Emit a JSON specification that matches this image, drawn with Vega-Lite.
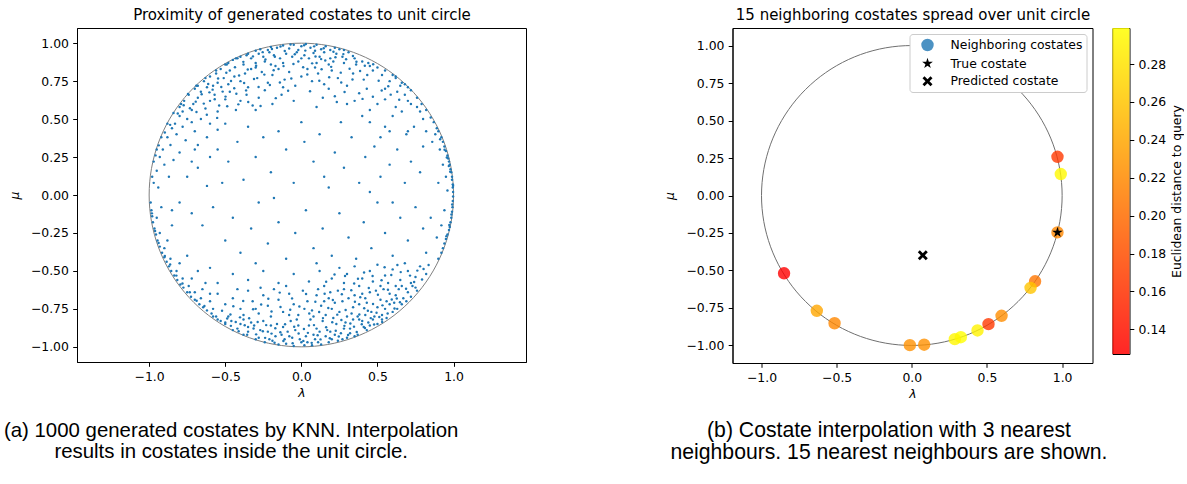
{
"$schema": "https://vega.github.io/schema/vega-lite/v6.json",
"padding": {"left": 3, "top": 6, "right": 0, "bottom": 0},
"background": "white",
"config": {
"font": "DejaVu Sans",
"view": {"stroke": "black", "strokeWidth": 1},
"axis": {"grid": false, "domainColor": "black", "domainWidth": 1, "tickColor": "black", "tickWidth": 1, "tickSize": 4.3, "labelPadding": 4.3, "labelFont": "DejaVu Sans", "labelFontSize": 12.4, "labelColor": "black", "labelFlush": false, "labelOverlap": false, "titleFont": "DejaVu Sans", "titleFontSize": 12.4, "titleFontWeight": "normal", "titleColor": "black"}
},
"datasets": {
"circle": [{"a":0,"x":1,"y":0},{"a":10,"x":0.9848,"y":0.1736},{"a":20,"x":0.9397,"y":0.342},{"a":30,"x":0.866,"y":0.5},{"a":40,"x":0.766,"y":0.6428},{"a":50,"x":0.6428,"y":0.766},{"a":60,"x":0.5,"y":0.866},{"a":70,"x":0.342,"y":0.9397},{"a":80,"x":0.1736,"y":0.9848},{"a":90,"x":0,"y":1},{"a":100,"x":-0.1736,"y":0.9848},{"a":110,"x":-0.342,"y":0.9397},{"a":120,"x":-0.5,"y":0.866},{"a":130,"x":-0.6428,"y":0.766},{"a":140,"x":-0.766,"y":0.6428},{"a":150,"x":-0.866,"y":0.5},{"a":160,"x":-0.9397,"y":0.342},{"a":170,"x":-0.9848,"y":0.1736},{"a":180,"x":-1,"y":0},{"a":190,"x":-0.9848,"y":-0.1736},{"a":200,"x":-0.9397,"y":-0.342},{"a":210,"x":-0.866,"y":-0.5},{"a":220,"x":-0.766,"y":-0.6428},{"a":230,"x":-0.6428,"y":-0.766},{"a":240,"x":-0.5,"y":-0.866},{"a":250,"x":-0.342,"y":-0.9397},{"a":260,"x":-0.1736,"y":-0.9848},{"a":270,"x":0,"y":-1},{"a":280,"x":0.1736,"y":-0.9848},{"a":290,"x":0.342,"y":-0.9397},{"a":300,"x":0.5,"y":-0.866},{"a":310,"x":0.6428,"y":-0.766},{"a":320,"x":0.766,"y":-0.6428},{"a":330,"x":0.866,"y":-0.5},{"a":340,"x":0.9397,"y":-0.342},{"a":350,"x":0.9848,"y":-0.1736}],
"neighbors": [{"x":0.969,"y":0.258,"dist":0.165},{"x":0.991,"y":0.143,"dist":0.295},{"x":0.969,"y":-0.246,"dist":0.218},{"x":-0.85,"y":-0.519,"dist":0.127},{"x":0.82,"y":-0.572,"dist":0.206},{"x":0.79,"y":-0.616,"dist":0.259},{"x":-0.632,"y":-0.769,"dist":0.239},{"x":-0.514,"y":-0.852,"dist":0.218},{"x":0.597,"y":-0.802,"dist":0.222},{"x":0.51,"y":-0.858,"dist":0.165},{"x":0.437,"y":-0.9,"dist":0.29},{"x":0.326,"y":-0.945,"dist":0.299},{"x":0.286,"y":-0.958,"dist":0.293},{"x":0.082,"y":-0.995,"dist":0.225},{"x":-0.013,"y":-0.998,"dist":0.225}],
"markers": [{"x":0.969,"y":-0.246,"kind":"True costate"},{"x":0.073,"y":-0.399,"kind":"Predicted costate"}],
"costates": [
{"x":-0.05,"y":0.99},{"x":0.03,"y":0.995},{"x":0.1,"y":0.99},{"x":-0.12,"y":0.985},{"x":0.16,"y":0.98},{"x":-0.2,"y":0.975},{"x":0.22,"y":0.97},{"x":-0.27,"y":0.96},{"x":0.06,"y":0.97},{"x":-0.08,"y":0.965},{"x":0.13,"y":0.96},{"x":0.28,"y":0.955},{"x":-0.3,"y":0.95},{"x":0,"y":0.98},{"x":-0.16,"y":0.97},{"x":0.19,"y":0.955},{"x":0.09,"y":0.95},{"x":-0.02,"y":0.955},{"x":-0.22,"y":0.955},{"x":0.25,"y":0.96},
{"x":-0.45,"y":0.89},{"x":-0.4,"y":0.91},{"x":-0.36,"y":0.92},{"x":-0.33,"y":0.9},{"x":-0.28,"y":0.93},{"x":-0.25,"y":0.91},{"x":-0.21,"y":0.94},{"x":-0.18,"y":0.92},{"x":-0.14,"y":0.9},{"x":-0.1,"y":0.93},{"x":-0.06,"y":0.91},{"x":-0.03,"y":0.94},{"x":0.02,"y":0.92},{"x":0.05,"y":0.9},{"x":0.08,"y":0.935},{"x":0.12,"y":0.91},{"x":0.15,"y":0.94},{"x":0.19,"y":0.9},{"x":0.23,"y":0.93},{"x":0.27,"y":0.91},{"x":0.31,"y":0.94},{"x":0.35,"y":0.9},{"x":0.4,"y":0.88},{"x":0.44,"y":0.87},{"x":-0.48,"y":0.87},{"x":-0.5,"y":0.86},{"x":-0.38,"y":0.86},{"x":-0.3,"y":0.87},{"x":-0.2,"y":0.86},{"x":-0.12,"y":0.87},{"x":-0.02,"y":0.88},{"x":0.1,"y":0.87},{"x":0.18,"y":0.86},{"x":0.28,"y":0.87},{"x":0.36,"y":0.86},{"x":-0.42,"y":0.9},{"x":-0.24,"y":0.88},{"x":0,"y":0.9},{"x":0.21,"y":0.88},{"x":0.13,"y":0.895},
{"x":-0.68,"y":0.72},{"x":-0.64,"y":0.75},{"x":-0.6,"y":0.78},{"x":-0.56,"y":0.8},{"x":-0.62,"y":0.71},{"x":-0.55,"y":0.74},{"x":-0.51,"y":0.77},{"x":-0.47,"y":0.82},{"x":-0.44,"y":0.78},{"x":-0.4,"y":0.75},{"x":-0.37,"y":0.8},{"x":-0.33,"y":0.83},{"x":-0.29,"y":0.77},{"x":-0.26,"y":0.81},{"x":-0.22,"y":0.74},{"x":-0.19,"y":0.79},{"x":-0.15,"y":0.83},{"x":-0.11,"y":0.76},{"x":-0.08,"y":0.81},{"x":-0.04,"y":0.72},{"x":0,"y":0.78},{"x":0.04,"y":0.83},{"x":0.07,"y":0.75},{"x":0.11,"y":0.8},{"x":0.15,"y":0.73},{"x":0.2,"y":0.82},{"x":0.24,"y":0.77},{"x":0.3,"y":0.72},{"x":0.34,"y":0.8},{"x":0.41,"y":0.76},{"x":0.47,"y":0.82},{"x":0.53,"y":0.79},{"x":0.58,"y":0.75},{"x":0.62,"y":0.77},{"x":0.5,"y":0.84},{"x":0.55,"y":0.82},{"x":0.45,"y":0.85},{"x":0.65,"y":0.72},{"x":-0.7,"y":0.7},{"x":-0.58,"y":0.72},{"x":-0.48,"y":0.73},{"x":-0.35,"y":0.71},{"x":-0.12,"y":0.71},{"x":0.18,"y":0.7},{"x":-0.53,"y":0.83},{"x":-0.3,"y":0.84},{"x":-0.17,"y":0.85},{"x":0.09,"y":0.84},
{"x":-0.8,"y":0.58},{"x":-0.77,"y":0.62},{"x":-0.74,"y":0.66},{"x":-0.71,"y":0.6},{"x":-0.68,"y":0.64},{"x":-0.66,"y":0.68},{"x":-0.63,"y":0.57},{"x":-0.6,"y":0.62},{"x":-0.57,"y":0.66},{"x":-0.54,"y":0.59},{"x":-0.5,"y":0.63},{"x":-0.47,"y":0.68},{"x":-0.43,"y":0.56},{"x":-0.4,"y":0.62},{"x":-0.36,"y":0.66},{"x":-0.32,"y":0.59},{"x":-0.28,"y":0.64},{"x":-0.24,"y":0.69},{"x":-0.19,"y":0.6},{"x":-0.13,"y":0.66},{"x":-0.05,"y":0.62},{"x":0.1,"y":0.58},{"x":0.22,"y":0.65},{"x":0.3,"y":0.6},{"x":0.45,"y":0.56},{"x":0.55,"y":0.63},{"x":0.62,"y":0.58},{"x":0.68,"y":0.66},{"x":0.72,"y":0.6},{"x":0.78,"y":0.55},{"x":-0.78,"y":0.55},{"x":-0.72,"y":0.56},{"x":-0.55,"y":0.55},{"x":-0.3,"y":0.56},{"x":0.38,"y":0.67},
{"x":-0.8,"y":0.52},{"x":-0.83,"y":0.47},{"x":-0.85,"y":0.44},{"x":-0.82,"y":0.4},{"x":-0.88,"y":0.38},{"x":-0.86,"y":0.33},{"x":-0.91,"y":0.3},{"x":-0.78,"y":0.45},{"x":-0.75,"y":0.5},{"x":-0.72,"y":0.48},{"x":-0.93,"y":0.25},{"x":-0.9,"y":0.2},{"x":-0.95,"y":0.16},{"x":-0.97,"y":0.08},{"x":-0.98,"y":0.12},{"x":-0.94,"y":0.05},{"x":-0.7,"y":0.42},{"x":-0.76,"y":0.36},{"x":-0.66,"y":0.5},{"x":-0.6,"y":0.47},{"x":-0.68,"y":0.33},{"x":-0.62,"y":0.38},{"x":-0.84,"y":0.23},{"x":-0.8,"y":0.28},{"x":-0.55,"y":0.43},{"x":-0.5,"y":0.47},{"x":-0.72,"y":0.22},{"x":-0.87,"y":0.12},
{"x":-0.35,"y":0.93},{"x":-0.43,"y":0.9},{"x":-0.49,"y":0.86},{"x":-0.56,"y":0.82},{"x":-0.63,"y":0.77},{"x":-0.69,"y":0.72},{"x":-0.745,"y":0.665},{"x":-0.79,"y":0.6},{"x":-0.84,"y":0.54},{"x":-0.88,"y":0.47},{"x":-0.92,"y":0.38},{"x":-0.95,"y":0.3},{"x":-0.97,"y":0.22},
{"x":0.55,"y":0.7},{"x":0.63,"y":0.68},{"x":0.7,"y":0.62},{"x":0.76,"y":0.58},{"x":0.6,"y":0.52},{"x":0.5,"y":0.6},{"x":0.43,"y":0.7},{"x":0.66,"y":0.55},{"x":0.35,"y":0.62},{"x":0.8,"y":0.5},{"x":0.74,"y":0.45},{"x":0.58,"y":0.42},{"x":0.69,"y":0.4},{"x":0.45,"y":0.48},{"x":0.4,"y":0.52},{"x":0.82,"y":0.42},{"x":0.52,"y":0.38},
{"x":0.82,"y":0.56},{"x":0.85,"y":0.51},{"x":0.87,"y":0.48},{"x":0.89,"y":0.44},{"x":0.9,"y":0.42},{"x":0.92,"y":0.38},{"x":0.93,"y":0.35},{"x":0.94,"y":0.32},{"x":0.95,"y":0.29},{"x":0.96,"y":0.26},{"x":0.965,"y":0.24},{"x":0.97,"y":0.22},{"x":0.975,"y":0.2},{"x":0.98,"y":0.17},{"x":0.985,"y":0.15},{"x":0.99,"y":0.12},{"x":0.99,"y":0.1},{"x":0.995,"y":0.07},{"x":0.995,"y":0.05},{"x":0.997,"y":0.02},{"x":0.997,"y":-0.01},{"x":0.995,"y":-0.04},{"x":0.993,"y":-0.08},{"x":0.99,"y":-0.11},{"x":0.985,"y":-0.15},{"x":0.98,"y":-0.18},{"x":0.975,"y":-0.21},{"x":0.97,"y":-0.23},{"x":0.96,"y":-0.26},{"x":0.95,"y":-0.29},{"x":0.94,"y":-0.32},{"x":0.93,"y":-0.35},{"x":0.92,"y":-0.38},{"x":0.9,"y":-0.42},
{"x":0.88,"y":0.4},{"x":0.91,"y":0.3},{"x":0.93,"y":0.2},{"x":0.95,"y":0.12},{"x":0.96,"y":0.03},{"x":0.94,"y":-0.1},{"x":0.92,"y":-0.2},{"x":0.89,"y":-0.28},{"x":0.86,"y":0.35},{"x":0.9,"y":0.08},{"x":0.85,"y":-0.15},
{"x":0.62,"y":0.78},{"x":0.68,"y":0.73},{"x":0.72,"y":0.69},{"x":0.76,"y":0.64},{"x":0.79,"y":0.6},{"x":0.6,"y":0.79},{"x":0.66,"y":0.74},{"x":0.7,"y":0.71},
{"x":-0.75,"y":0.12},{"x":-0.68,"y":0.18},{"x":-0.62,"y":0.06},{"x":-0.55,"y":0.3},{"x":-0.48,"y":0.22},{"x":-0.42,"y":0.35},{"x":-0.38,"y":0.1},{"x":-0.3,"y":0.25},{"x":-0.25,"y":0.38},{"x":-0.2,"y":0.15},{"x":-0.15,"y":0.42},{"x":-0.1,"y":0.3},{"x":-0.05,"y":0.08},{"x":0.02,"y":0.35},{"x":0.08,"y":0.22},{"x":0.12,"y":0.4},{"x":0.18,"y":0.05},{"x":0.22,"y":0.28},{"x":0.28,"y":0.18},{"x":0.33,"y":0.38},{"x":0.38,"y":0.08},{"x":0.42,"y":0.25},{"x":0.48,"y":0.32},{"x":0.52,"y":0.12},{"x":0.58,"y":0.2},{"x":0.63,"y":0.3},{"x":0.68,"y":0.08},{"x":0.72,"y":0.22},{"x":0.78,"y":0.15},{"x":0.8,"y":0.32},
{"x":-0.8,"y":-0.05},{"x":-0.72,"y":-0.12},{"x":-0.65,"y":-0.2},{"x":-0.58,"y":-0.08},{"x":-0.5,"y":-0.3},{"x":-0.45,"y":-0.15},{"x":-0.4,"y":-0.38},{"x":-0.33,"y":-0.22},{"x":-0.28,"y":-0.05},{"x":-0.22,"y":-0.32},{"x":-0.15,"y":-0.18},{"x":-0.1,"y":-0.42},{"x":-0.04,"y":-0.25},{"x":0.03,"y":-0.1},{"x":0.08,"y":-0.35},{"x":0.14,"y":-0.22},{"x":0.2,"y":-0.4},{"x":0.25,"y":-0.12},{"x":0.31,"y":-0.28},{"x":0.36,"y":-0.42},{"x":0.41,"y":-0.18},{"x":0.46,"y":-0.35},{"x":0.5,"y":-0.05},{"x":0.55,"y":-0.25},{"x":0.6,"y":-0.4},{"x":0.65,"y":-0.15},{"x":0.7,"y":-0.3},{"x":0.75,"y":-0.08},{"x":0.8,"y":-0.22},{"x":0.82,"y":-0.38},
{"x":-0.6,"y":0.25},{"x":-0.35,"y":0.45},{"x":0,"y":0.48},{"x":0.26,"y":0.48},{"x":0.55,"y":0.45},{"x":-0.7,"y":0.3},{"x":0.15,"y":0.12},{"x":-0.18,"y":-0.02},{"x":0.45,"y":0.02},{"x":-0.52,"y":0.08},{"x":0.6,"y":-0.05},{"x":-0.85,"y":-0.2},{"x":0.1,"y":-0.45},{"x":-0.3,"y":-0.45},{"x":0.7,"y":0.42},
{"x":0.25,"y":-0.48},{"x":0.3,"y":-0.52},{"x":0.35,"y":-0.47},{"x":0.4,"y":-0.55},{"x":0.45,"y":-0.5},{"x":0.5,"y":-0.46},{"x":0.55,"y":-0.53},{"x":0.6,"y":-0.49},{"x":0.65,"y":-0.56},{"x":0.7,"y":-0.5},{"x":0.75,"y":-0.54},{"x":0.78,"y":-0.47},{"x":0.82,"y":-0.52},{"x":0.68,"y":-0.45},{"x":0.57,"y":-0.58},{"x":0.47,"y":-0.57},{"x":0.38,"y":-0.6},{"x":0.28,"y":-0.58},{"x":0.2,"y":-0.55},{"x":0.12,"y":-0.5},{"x":0.05,"y":-0.57},{"x":-0.05,"y":-0.52},{"x":-0.15,"y":-0.58},{"x":-0.25,"y":-0.5},{"x":-0.35,"y":-0.56},{"x":-0.45,"y":-0.52},{"x":-0.55,"y":-0.58},{"x":-0.6,"y":-0.48},{"x":0.62,"y":-0.6},{"x":0.72,"y":-0.58},{"x":0.52,"y":-0.6},{"x":0.15,"y":-0.6},
{"x":-0.55,"y":-0.65},{"x":-0.5,"y":-0.72},{"x":-0.45,"y":-0.68},{"x":-0.4,"y":-0.75},{"x":-0.35,"y":-0.63},{"x":-0.32,"y":-0.7},{"x":-0.28,"y":-0.78},{"x":-0.25,"y":-0.66},{"x":-0.22,"y":-0.73},{"x":-0.18,"y":-0.62},{"x":-0.15,"y":-0.69},{"x":-0.12,"y":-0.77},{"x":-0.08,"y":-0.65},{"x":-0.05,"y":-0.72},{"x":-0.02,"y":-0.79},{"x":0.01,"y":-0.63},{"x":0.04,"y":-0.7},{"x":0.07,"y":-0.76},{"x":0.1,"y":-0.66},{"x":0.13,"y":-0.73},{"x":0.16,"y":-0.79},{"x":0.19,"y":-0.64},{"x":0.22,"y":-0.71},{"x":0.25,"y":-0.77},{"x":0.28,"y":-0.62},{"x":0.31,"y":-0.68},{"x":0.34,"y":-0.74},{"x":0.37,"y":-0.8},{"x":0.4,"y":-0.65},{"x":0.43,"y":-0.71},{"x":0.46,"y":-0.77},{"x":0.49,"y":-0.63},{"x":0.52,"y":-0.69},{"x":0.55,"y":-0.75},{"x":0.58,"y":-0.65},{"x":0.61,"y":-0.71},{"x":0.64,"y":-0.62},{"x":0.67,"y":-0.68},{"x":0.7,"y":-0.64},{"x":0.73,"y":-0.6},{"x":0.76,"y":-0.63},{"x":0.6,"y":-0.77},{"x":0.63,"y":-0.75},{"x":0.66,"y":-0.72},{"x":0.69,"y":-0.7},{"x":0.72,"y":-0.67},{"x":0.75,"y":-0.61},{"x":0.48,"y":-0.8},{"x":0.53,"y":-0.79},{"x":0.42,"y":-0.79},{"x":0.3,"y":-0.8},{"x":0.2,"y":-0.75},{"x":0.08,"y":-0.8},{"x":-0.08,"y":-0.79},{"x":-0.2,"y":-0.8},{"x":-0.38,"y":-0.79},{"x":-0.6,"y":-0.7},{"x":-0.65,"y":-0.62},{"x":-0.58,"y":-0.75},{"x":0.35,"y":-0.66},{"x":0.27,"y":-0.7},{"x":0.15,"y":-0.7},{"x":0.45,"y":-0.64},{"x":0.56,"y":-0.7},{"x":0.62,"y":-0.66},{"x":0.38,"y":-0.72},{"x":0.5,"y":-0.74},{"x":0.24,"y":-0.63},{"x":-0.1,"y":-0.6},{"x":-0.3,"y":-0.75},{"x":0.02,"y":-0.75},{"x":0.11,"y":-0.62},{"x":0.66,"y":-0.6},{"x":0.54,"y":-0.62},{"x":0.42,"y":-0.68},{"x":0.33,"y":-0.78},{"x":0.58,"y":-0.72},{"x":0.18,"y":-0.68},{"x":-0.42,"y":-0.62},
{"x":-0.55,"y":-0.82},{"x":-0.5,"y":-0.85},{"x":-0.46,"y":-0.83},{"x":-0.42,"y":-0.88},{"x":-0.38,"y":-0.82},{"x":-0.35,"y":-0.9},{"x":-0.31,"y":-0.86},{"x":-0.28,"y":-0.94},{"x":-0.25,"y":-0.83},{"x":-0.22,"y":-0.9},{"x":-0.19,"y":-0.96},{"x":-0.16,"y":-0.85},{"x":-0.13,"y":-0.92},{"x":-0.1,"y":-0.98},{"x":-0.07,"y":-0.83},{"x":-0.04,"y":-0.89},{"x":-0.01,"y":-0.95},{"x":0.02,"y":-0.99},{"x":0.05,"y":-0.86},{"x":0.08,"y":-0.92},{"x":0.11,"y":-0.97},{"x":0.14,"y":-0.83},{"x":0.17,"y":-0.89},{"x":0.2,"y":-0.95},{"x":0.23,"y":-0.85},{"x":0.26,"y":-0.91},{"x":0.29,"y":-0.84},{"x":0.32,"y":-0.88},{"x":0.35,"y":-0.93},{"x":0.38,"y":-0.82},{"x":0.41,"y":-0.87},{"x":0.44,"y":-0.84},{"x":0.47,"y":-0.82},{"x":0.5,"y":-0.85},{"x":0.53,"y":-0.82},{"x":0.56,"y":-0.81},{"x":-0.58,"y":-0.8},{"x":-0.45,"y":-0.89},{"x":-0.3,"y":-0.95},{"x":-0.15,"y":-0.985},{"x":0,"y":-0.97},{"x":-0.05,"y":-0.995},{"x":0.07,"y":-0.99},{"x":0.13,"y":-0.985},{"x":0.18,"y":-0.97},{"x":0.24,"y":-0.96},{"x":0.3,"y":-0.94},{"x":0.37,"y":-0.92},{"x":0.43,"y":-0.89},{"x":-0.38,"y":-0.92},{"x":-0.24,"y":-0.97},{"x":-0.2,"y":-0.86},{"x":-0.09,"y":-0.9},{"x":0.03,"y":-0.93},{"x":0.1,"y":-0.88},{"x":0.16,"y":-0.93},{"x":0.28,"y":-0.88},{"x":0.4,"y":-0.83},{"x":-0.33,"y":-0.84},{"x":-0.12,"y":-0.87},{"x":-0.03,"y":-0.82},{"x":0.06,"y":-0.82},{"x":0.21,"y":-0.81},{"x":0.34,"y":-0.82},{"x":-0.27,"y":-0.89},{"x":-0.17,"y":-0.93},{"x":-0.06,"y":-0.94},{"x":0.12,"y":-0.9},{"x":0.22,"y":-0.92},{"x":0.45,"y":-0.86},{"x":-0.48,"y":-0.8},{"x":-0.4,"y":-0.85},{"x":0.04,"y":-0.97},{"x":-0.11,"y":-0.95},{"x":0.19,"y":-0.9},{"x":0.27,"y":-0.95},{"x":-0.21,"y":-0.95},{"x":0.09,"y":-0.95},{"x":-0.02,"y":-0.86},{"x":0.32,"y":-0.91},{"x":-0.35,"y":-0.87},
{"x":-0.99,"y":-0.05},{"x":-0.985,"y":-0.1},{"x":-0.98,"y":-0.14},{"x":-0.975,"y":-0.18},{"x":-0.965,"y":-0.22},{"x":-0.955,"y":-0.26},{"x":-0.945,"y":-0.3},{"x":-0.93,"y":-0.34},{"x":-0.915,"y":-0.38},{"x":-0.9,"y":-0.41},{"x":-0.885,"y":-0.44},{"x":-0.87,"y":-0.47},{"x":-0.855,"y":-0.5},{"x":-0.835,"y":-0.53},{"x":-0.815,"y":-0.56},{"x":-0.795,"y":-0.59},{"x":-0.775,"y":-0.61},{"x":-0.75,"y":-0.64},{"x":-0.725,"y":-0.67},{"x":-0.7,"y":-0.69},{"x":-0.67,"y":-0.72},{"x":-0.645,"y":-0.74},{"x":-0.62,"y":-0.76},{"x":-0.59,"y":-0.78},{"x":-0.56,"y":-0.8},{"x":-0.53,"y":-0.83},{"x":-0.5,"y":-0.84},
{"x":-0.95,"y":-0.15},{"x":-0.93,"y":-0.25},{"x":-0.9,"y":-0.35},{"x":-0.86,"y":-0.42},{"x":-0.82,"y":-0.5},{"x":-0.78,"y":-0.55},{"x":-0.74,"y":-0.6},{"x":-0.7,"y":-0.64},{"x":-0.66,"y":-0.68},{"x":-0.88,"y":-0.3},{"x":-0.8,"y":-0.45},{"x":-0.72,"y":-0.55},{"x":-0.63,"y":-0.58},{"x":-0.68,"y":-0.5},{"x":-0.75,"y":-0.4},{"x":-0.85,"y":-0.1},{"x":-0.6,"y":-0.65},{"x":-0.92,"y":-0.08},
{"x":-0.612,"y":0.731},{"x":-0.547,"y":0.768},{"x":-0.493,"y":0.805},{"x":-0.436,"y":0.842},{"x":-0.381,"y":0.877},{"x":-0.318,"y":0.913},{"x":-0.254,"y":0.941},{"x":-0.193,"y":0.962},{"x":-0.137,"y":0.978},{"x":-0.071,"y":0.991},{"x":0.018,"y":0.987},{"x":0.084,"y":0.979},{"x":0.147,"y":0.967},{"x":0.211,"y":0.944},{"x":0.276,"y":0.928},{"x":0.339,"y":0.915},
{"x":-0.583,"y":0.694},{"x":-0.526,"y":0.712},{"x":-0.462,"y":0.751},{"x":-0.409,"y":0.787},{"x":-0.352,"y":0.826},{"x":-0.297,"y":0.852},{"x":-0.236,"y":0.893},{"x":-0.174,"y":0.911},{"x":-0.109,"y":0.948},{"x":-0.043,"y":0.927},{"x":0.026,"y":0.951},{"x":0.093,"y":0.912},{"x":0.157,"y":0.886},{"x":0.224,"y":0.907},{"x":0.294,"y":0.894},{"x":0.362,"y":0.878},{"x":0.417,"y":0.852},{"x":0.472,"y":0.861},
{"x":-0.655,"y":0.663},{"x":-0.604,"y":0.676},{"x":-0.517,"y":0.681},{"x":-0.441,"y":0.703},{"x":-0.376,"y":0.738},{"x":-0.311,"y":0.764},{"x":-0.243,"y":0.793},{"x":-0.182,"y":0.822},{"x":-0.117,"y":0.849},{"x":-0.052,"y":0.863},{"x":0.012,"y":0.842},{"x":0.071,"y":0.867},{"x":0.133,"y":0.828},{"x":0.196,"y":0.844},{"x":0.259,"y":0.806},{"x":0.317,"y":0.832},{"x":0.386,"y":0.817},{"x":0.433,"y":0.791},
{"x":-0.694,"y":0.615},{"x":-0.641,"y":0.602},{"x":-0.569,"y":0.631},{"x":-0.498,"y":0.648},{"x":-0.427,"y":0.667},{"x":-0.363,"y":0.689},{"x":-0.281,"y":0.712},{"x":-0.207,"y":0.724},{"x":-0.141,"y":0.741},{"x":-0.066,"y":0.768},{"x":0.039,"y":0.794},{"x":0.118,"y":0.752},{"x":0.183,"y":0.776},{"x":0.262,"y":0.741},{"x":0.336,"y":0.761},{"x":0.508,"y":0.753},{"x":0.571,"y":0.716},{"x":0.528,"y":0.688},
{"x":-0.732,"y":0.571},{"x":-0.689,"y":0.547},{"x":-0.621,"y":0.529},{"x":-0.553,"y":0.508},{"x":-0.487,"y":0.584},{"x":-0.414,"y":0.597},{"x":-0.349,"y":0.612},{"x":-0.268,"y":0.586},{"x":-0.168,"y":0.638},{"x":-0.087,"y":0.687},{"x":0.057,"y":0.683},{"x":0.141,"y":0.641},{"x":0.233,"y":0.613},{"x":0.284,"y":0.678},{"x":0.402,"y":0.633},{"x":0.47,"y":0.647},{"x":0.587,"y":0.661},{"x":0.643,"y":0.627},
{"x":-0.463,"y":-0.862},{"x":-0.412,"y":-0.897},{"x":-0.356,"y":-0.921},{"x":-0.297,"y":-0.918},{"x":-0.238,"y":-0.941},{"x":-0.176,"y":-0.973},{"x":-0.118,"y":-0.962},{"x":-0.057,"y":-0.977},{"x":0.013,"y":-0.961},{"x":0.068,"y":-0.974},{"x":0.126,"y":-0.951},{"x":0.187,"y":-0.943},{"x":0.246,"y":-0.932},{"x":0.307,"y":-0.922},{"x":0.364,"y":-0.903},{"x":0.418,"y":-0.876},{"x":0.478,"y":-0.853},{"x":0.531,"y":-0.837},
{"x":-0.487,"y":-0.814},{"x":-0.431,"y":-0.837},{"x":-0.372,"y":-0.858},{"x":-0.314,"y":-0.879},{"x":-0.253,"y":-0.897},{"x":-0.196,"y":-0.913},{"x":-0.138,"y":-0.904},{"x":-0.079,"y":-0.931},{"x":-0.018,"y":-0.912},{"x":0.043,"y":-0.908},{"x":0.107,"y":-0.924},{"x":0.163,"y":-0.871},{"x":0.226,"y":-0.894},{"x":0.283,"y":-0.862},{"x":0.346,"y":-0.867},{"x":0.397,"y":-0.851},{"x":0.456,"y":-0.811},{"x":0.512,"y":-0.803},
{"x":-0.521,"y":-0.763},{"x":-0.466,"y":-0.787},{"x":-0.403,"y":-0.806},{"x":-0.343,"y":-0.812},{"x":-0.287,"y":-0.836},{"x":-0.231,"y":-0.857},{"x":-0.171,"y":-0.878},{"x":-0.107,"y":-0.851},{"x":-0.047,"y":-0.868},{"x":0.017,"y":-0.883},{"x":0.083,"y":-0.857},{"x":0.142,"y":-0.811},{"x":0.203,"y":-0.838},{"x":0.263,"y":-0.823},{"x":0.322,"y":-0.846},{"x":0.381,"y":-0.787},{"x":0.437,"y":-0.762},{"x":0.494,"y":-0.776},{"x":0.567,"y":-0.781},{"x":0.612,"y":-0.748},
{"x":-0.447,"y":-0.733},{"x":-0.382,"y":-0.698},{"x":-0.317,"y":-0.752},{"x":-0.264,"y":-0.721},{"x":-0.196,"y":-0.767},{"x":-0.137,"y":-0.738},{"x":-0.073,"y":-0.756},{"x":-0.013,"y":-0.734},{"x":0.052,"y":-0.781},{"x":0.117,"y":-0.771},{"x":0.177,"y":-0.744},{"x":0.236,"y":-0.788},{"x":0.291,"y":-0.757},{"x":0.352,"y":-0.703},{"x":0.413,"y":-0.746},{"x":0.471,"y":-0.718},{"x":0.533,"y":-0.727},{"x":0.594,"y":-0.688},{"x":0.648,"y":-0.706},
{"x":-0.268,"y":-0.611},{"x":-0.217,"y":-0.684},{"x":-0.142,"y":-0.643},{"x":-0.061,"y":-0.681},{"x":0.031,"y":-0.652},{"x":0.092,"y":-0.703},{"x":0.153,"y":-0.651},{"x":0.207,"y":-0.691},{"x":0.266,"y":-0.654},{"x":0.328,"y":-0.627},{"x":0.387,"y":-0.673},{"x":0.443,"y":-0.612},{"x":0.503,"y":-0.657},{"x":0.569,"y":-0.624},{"x":0.627,"y":-0.682},{"x":0.688,"y":-0.618},{"x":0.741,"y":-0.573},{"x":0.793,"y":-0.556},
{"x":0.287,"y":-0.534},{"x":0.347,"y":-0.583},{"x":0.412,"y":-0.511},{"x":0.468,"y":-0.534},{"x":0.527,"y":-0.562},{"x":0.591,"y":-0.527},{"x":0.653,"y":-0.508},{"x":0.714,"y":-0.531},{"x":0.762,"y":-0.498},{"x":0.803,"y":-0.487},{"x":0.836,"y":-0.461},{"x":0.631,"y":-0.461},{"x":0.547,"y":-0.476},{"x":0.372,"y":-0.552},{"x":0.218,"y":-0.523},{"x":0.163,"y":-0.572},
{"x":-0.982,"y":-0.121},{"x":-0.961,"y":-0.237},{"x":-0.938,"y":-0.316},{"x":-0.897,"y":-0.401},{"x":-0.862,"y":-0.458},{"x":-0.821,"y":-0.531},{"x":-0.781,"y":-0.583},{"x":-0.733,"y":-0.641},{"x":-0.688,"y":-0.697},{"x":-0.637,"y":-0.731},
{"x":0.978,"y":0.153},{"x":0.969,"y":0.191},{"x":0.956,"y":0.247},{"x":0.941,"y":0.298},{"x":0.986,"y":-0.128},{"x":0.972,"y":-0.197},{"x":0.953,"y":-0.271},{"x":0.997,"y":0.061},{"x":0.991,"y":-0.063},{"x":0.912,"y":0.367},
{"x":-0.862,"y":0.462},{"x":-0.897,"y":0.412},{"x":-0.937,"y":0.327},{"x":-0.958,"y":0.261},{"x":-0.812,"y":0.537},{"x":-0.773,"y":0.591}
]
},
"spacing": 135.5,
"resolve": {"scale": {"color": "independent", "fill": "independent", "shape": "independent", "size": "independent"}, "legend": {"color": "independent", "fill": "independent", "shape": "independent", "size": "independent"}},
"hconcat": [
{
"width": 449, "height": 334,
"title": {"text": ["(a) 1000 generated costates by KNN. Interpolation", "results in costates inside the unit circle."], "orient": "bottom", "anchor": "middle", "frame": "group", "dx": -70.3, "offset": 23, "font": "Liberation Sans", "fontSize": 20.4, "fontWeight": "normal", "lineHeight": 21, "color": "black"},
"resolve": {"axis": {"x": "independent"}},
"layer": [
{"data": {"name": "circle"}, "mark": {"type": "line", "color": "#808080", "strokeWidth": 1, "interpolate": "cardinal-closed"},
"encoding": {
"x": {"field": "x", "type": "quantitative", "scale": {"domain": [-1.474, 1.476], "nice": false, "zero": false}, "axis": {"orient": "top", "title": "Proximity of generated costates to unit circle", "labels": false, "ticks": false, "domain": false, "titleFontSize": 15, "titlePadding": 6}},
"y": {"field": "y", "type": "quantitative", "scale": {"domain": [-1.1, 1.1], "nice": false, "zero": false}, "axis": {"values": [-1, -0.75, -0.5, -0.25, 0, 0.25, 0.5, 0.75, 1], "format": ".2f", "title": "μ", "titleFontStyle": "italic", "titlePadding": 9}},
"order": {"field": "a", "type": "quantitative"}}},
{"data": {"name": "costates"}, "mark": {"type": "circle", "size": 6, "color": "#1f77b4", "opacity": 1},
"encoding": {
"x": {"field": "x", "type": "quantitative", "scale": {"domain": [-1.474, 1.476], "nice": false, "zero": false}, "axis": {"orient": "bottom", "values": [-1, -0.5, 0, 0.5, 1], "format": ".1f", "title": "λ", "titleFontStyle": "italic", "titlePadding": 3}},
"y": {"field": "y", "type": "quantitative", "scale": {"domain": [-1.1, 1.1], "nice": false, "zero": false}, "axis": {"values": [-1, -0.75, -0.5, -0.25, 0, 0.25, 0.5, 0.75, 1], "format": ".2f", "title": "μ", "titleFontStyle": "italic", "titlePadding": 9}}}}
]
},
{
"title": {"text": ["(b) Costate interpolation with 3 nearest", "neighbours. 15 nearest neighbours are shown."], "orient": "bottom", "anchor": "middle", "dx": -34.5, "offset": 20, "font": "Liberation Sans", "fontSize": 21.2, "fontWeight": "normal", "lineHeight": 22, "color": "black"},
"spacing": 18,
"resolve": {"scale": {"color": "independent", "fill": "independent", "shape": "independent", "size": "independent"}, "legend": {"color": "independent", "fill": "independent", "shape": "independent", "size": "independent"}},
"hconcat": [
{
"width": 360, "height": 335,
"resolve": {"axis": {"x": "independent"}},
"layer": [
{"data": {"name": "circle"}, "mark": {"type": "line", "color": "#707070", "strokeWidth": 1, "interpolate": "cardinal-closed"},
"encoding": {
"x": {"field": "x", "type": "quantitative", "scale": {"domain": [-1.193, 1.202], "nice": false, "zero": false}, "axis": {"orient": "top", "title": "15 neighboring costates spread over unit circle", "labels": false, "ticks": false, "domain": false, "titleFontSize": 15, "titlePadding": 6}},
"y": {"field": "y", "type": "quantitative", "scale": {"domain": [-1.117, 1.117], "nice": false, "zero": false}, "axis": {"values": [-1, -0.75, -0.5, -0.25, 0, 0.25, 0.5, 0.75, 1], "format": ".2f", "title": "μ", "titleFontStyle": "italic", "titlePadding": 9}},
"order": {"field": "a", "type": "quantitative"}}},
{"data": {"name": "neighbors"}, "mark": {"type": "circle", "size": 154, "opacity": 0.8},
"encoding": {
"x": {"field": "x", "type": "quantitative", "scale": {"domain": [-1.193, 1.202], "nice": false, "zero": false}, "axis": {"orient": "bottom", "values": [-1, -0.5, 0, 0.5, 1], "format": ".1f", "title": "λ", "titleFontStyle": "italic", "titlePadding": 3}},
"y": {"field": "y", "type": "quantitative", "scale": {"domain": [-1.117, 1.117], "nice": false, "zero": false}},
"fill": {"field": "dist", "type": "quantitative", "scale": {"range": ["#ff0000", "#ffff00"], "interpolate": "rgb", "zero": false, "nice": false}, "legend": null}}},
{"data": {"name": "markers"}, "mark": {"type": "point", "filled": true, "opacity": 1, "strokeWidth": 0},
"encoding": {
"x": {"field": "x", "type": "quantitative", "scale": {"domain": [-1.193, 1.202], "nice": false, "zero": false}, "axis": null},
"y": {"field": "y", "type": "quantitative", "scale": {"domain": [-1.117, 1.117], "nice": false, "zero": false}},
"shape": {"field": "kind", "type": "nominal", "scale": {"domain": ["Neighboring costates", "True costate", "Predicted costate"], "range": ["circle", "M0,-1L0.225,-0.309L0.951,-0.309L0.363,0.118L0.588,0.809L0,0.382L-0.588,0.809L-0.363,0.118L-0.951,-0.309L-0.225,-0.309Z", "M-1,-0.6L-0.6,-1L0,-0.4L0.6,-1L1,-0.6L0.4,0L1,0.6L0.6,1L0,0.4L-0.6,1L-1,0.6L-0.4,0Z"]}, "legend": {"title": null, "orient": "top-right", "offset": 6, "padding": 4, "symbolOffset": 7, "labelOffset": 16, "rowPadding": 5, "labelFont": "DejaVu Sans", "labelFontSize": 12.4, "labelColor": "black", "strokeColor": "#cccccc", "fillColor": "white", "cornerRadius": 3}},
"color": {"field": "kind", "type": "nominal", "scale": {"domain": ["Neighboring costates", "True costate", "Predicted costate"], "range": ["#4c92c3", "black", "black"]}, "legend": {"title": null, "orient": "top-right", "offset": 6, "padding": 4, "symbolOffset": 7, "labelOffset": 16, "rowPadding": 5, "labelFont": "DejaVu Sans", "labelFontSize": 12.4, "labelColor": "black", "strokeColor": "#cccccc", "fillColor": "white", "cornerRadius": 3}},
"size": {"field": "kind", "type": "nominal", "scale": {"domain": ["Neighboring costates", "True costate", "Predicted costate"], "range": [154, 100, 30]}, "legend": {"title": null, "orient": "top-right", "offset": 6, "padding": 4, "symbolOffset": 7, "labelOffset": 16, "rowPadding": 5, "labelFont": "DejaVu Sans", "labelFontSize": 12.4, "labelColor": "black", "strokeColor": "#cccccc", "fillColor": "white", "cornerRadius": 3}}}}
]
},
{
"width": 17, "height": 326,
"data": {"name": "neighbors"},
"mark": {"type": "rect", "fill": {"gradient": "linear", "x1": 0, "y1": 1, "x2": 0, "y2": 0, "stops": [{"offset": 0, "color": "#ff0000"}, {"offset": 1, "color": "#ffff00"}]}, "fillOpacity": 0.85},
"encoding": {
"y": {"aggregate": "min", "field": "dist", "type": "quantitative", "scale": {"zero": false, "nice": false}, "axis": {"orient": "right", "values": [0.14, 0.16, 0.18, 0.2, 0.22, 0.24, 0.26, 0.28], "format": ".2f", "title": "Euclidean distance to query", "titleAngle": 270, "titleBaseline": "top", "domain": false, "titlePadding": 5}},
"y2": {"aggregate": "max", "field": "dist"}
}
}
]
}
]
}
